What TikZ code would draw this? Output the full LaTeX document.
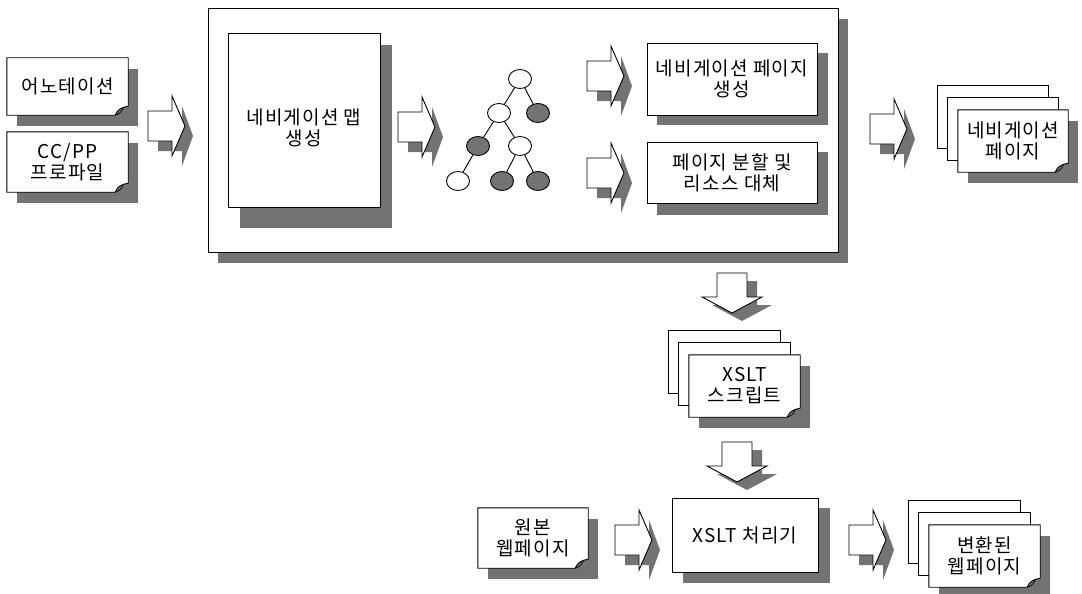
\documentclass[tikz,border=0pt]{standalone}
\usepackage{fontspec}
\setmainfont[LetterSpace=6]{Noto Sans CJK KR}
\usetikzlibrary{backgrounds,shapes.geometric}
\tikzset{
  shadowfill/.style={fill=black!55},
  box/.style={draw=black, fill=white, line width=0.9pt},
  plainbox/.style={box, inner sep=0pt, align=center, font=\fontsize{19}{21}\selectfont},
  txt/.style={inner sep=0pt, align=center, font=\fontsize{19}{21}\selectfont},
  tnode/.style={ellipse, draw=black, line width=0.9pt, minimum width=23pt, minimum height=19pt, inner sep=0pt},
  twhite/.style={tnode, fill=white},
  tgray/.style={tnode, fill=black!55},
  tedge/.style={line width=0.9pt},
  rarr/.pic={
    \fill[shadowfill] (10,-5) -- (34,-5) -- (34,-20) -- (45,10) -- (34,40) -- (34,25) -- (10,25) -- cycle;
    \filldraw[box] (0,-15) -- (24,-15) -- (24,-30) -- (37,0) -- (24,30) -- (24,15) -- (0,15) -- cycle;
  },
  darr/.pic={
    \fill[shadowfill] (-5,8) -- (25,8) -- (25,32) -- (40,32) -- (10,48) -- (-20,32) -- (-5,32) -- cycle;
    \filldraw[box] (-15,0) -- (15,0) -- (15,24) -- (30,24) -- (0,40) -- (-30,24) -- (-15,24) -- cycle;
  }
}
\newcommand\mydoc[1]{%
  \fill[shadowfill] ([shift={(10,11)}]#1.north west) rectangle ([shift={(10,11)}]#1.south east);
  \filldraw[box] (#1.north west) -- (#1.north east) -- ([shift={(0,-9)}]#1.south east)
     .. controls ([shift={(-6,-8)}]#1.south east) and ([shift={(-11,-6)}]#1.south east) .. ([shift={(-13,0)}]#1.south east)
     -- (#1.south west) -- cycle;
  \draw[line width=0.7pt] ([shift={(-13,0)}]#1.south east) .. controls ([shift={(-8,-2)}]#1.south east) .. ([shift={(-5,-7)}]#1.south east);
}
\newcommand\mystack[1]{%
  \filldraw[box] ([shift={(-20,-24)}]#1.north west) rectangle ([shift={(-20,-24)}]#1.south east);
  \filldraw[box] ([shift={(-10,-12)}]#1.north west) rectangle ([shift={(-10,-12)}]#1.south east);
  \mydoc{#1}%
}
\begin{document}
\begin{tikzpicture}[x=1pt,y=-1pt]
\useasboundingbox (0,0) rectangle (1082,594);

% text nodes of documents
\node[txt, minimum width=121pt, minimum height=57pt] (ann) at (67.5,86.5) {어노테이션};
\node[txt, minimum width=121pt, minimum height=60pt] (ccpp) at (67.5,162) {CC/PP\\프로파일};
\node[txt, minimum width=110pt, minimum height=62pt] (navpg) at (1013,141) {네비게이션\\페이지};
\node[txt, minimum width=111pt, minimum height=62pt] (xslt) at (744.5,386) {XSLT\\스크립트};
\node[txt, minimum width=110pt, minimum height=60pt] (orig) at (533,538) {원본\\웹페이지};
\node[txt, minimum width=111pt, minimum height=62pt] (conv) at (984.5,556) {변환된\\웹페이지};

\begin{scope}[on background layer]
  \fill[shadowfill] (218,19) rectangle (848,263);
  \node[box, minimum width=630pt, minimum height=244pt, inner sep=0pt] (main) at (523,130) {};
  \fill[shadowfill] (240,45) rectangle (392,228);
  \fill[shadowfill] (657,53) rectangle (828,125);
  \fill[shadowfill] (657,152) rectangle (828,215);
  \fill[shadowfill] (683,508) rectangle (830,583);
  \mydoc{ann}
  \mydoc{ccpp}
  \mystack{navpg}
  \mystack{xslt}
  \mydoc{orig}
  \mystack{conv}
\end{scope}

% plain boxes
\node[plainbox, minimum width=152pt, minimum height=174pt,
      label={[txt, yshift=-8pt]center:{네비게이션 맵\\생성}}] (map) at (304,120) {};
\node[plainbox, minimum width=170pt, minimum height=72pt] (nav) at (732,79) {네비게이션 페이지\\생성};
\node[plainbox, minimum width=170pt, minimum height=61pt] (split) at (732,172.5) {페이지 분할 및\\리소스 대체};
\node[plainbox, minimum width=146pt, minimum height=74pt] (proc) at (745,535) {XSLT 처리기};

% tree
\node[twhite] (r) at (520,79) {};
\node[twhite] (a) at (499,113) {};
\node[tgray]  (b) at (538,113) {};
\node[tgray]  (c) at (478,146) {};
\node[twhite] (d) at (520,146) {};
\node[twhite] (e) at (458,181) {};
\node[tgray]  (f) at (502,181) {};
\node[tgray]  (g) at (538,181) {};
\draw[tedge] (r) -- (a);
\draw[tedge] (r) -- (b);
\draw[tedge] (a) -- (c);
\draw[tedge] (a) -- (d);
\draw[tedge] (c) -- (e);
\draw[tedge] (d) -- (f);
\draw[tedge] (d) -- (g);

% block arrows
\pic at (148,126) {rarr};
\pic at (398,127) {rarr};
\pic at (587,76) {rarr};
\pic at (587,173) {rarr};
\pic at (870,129) {rarr};
\pic at (615,540) {rarr};
\pic at (849,540) {rarr};
\pic at (732,273) {darr};
\pic at (737,442) {darr};
\end{tikzpicture}
\end{document}
